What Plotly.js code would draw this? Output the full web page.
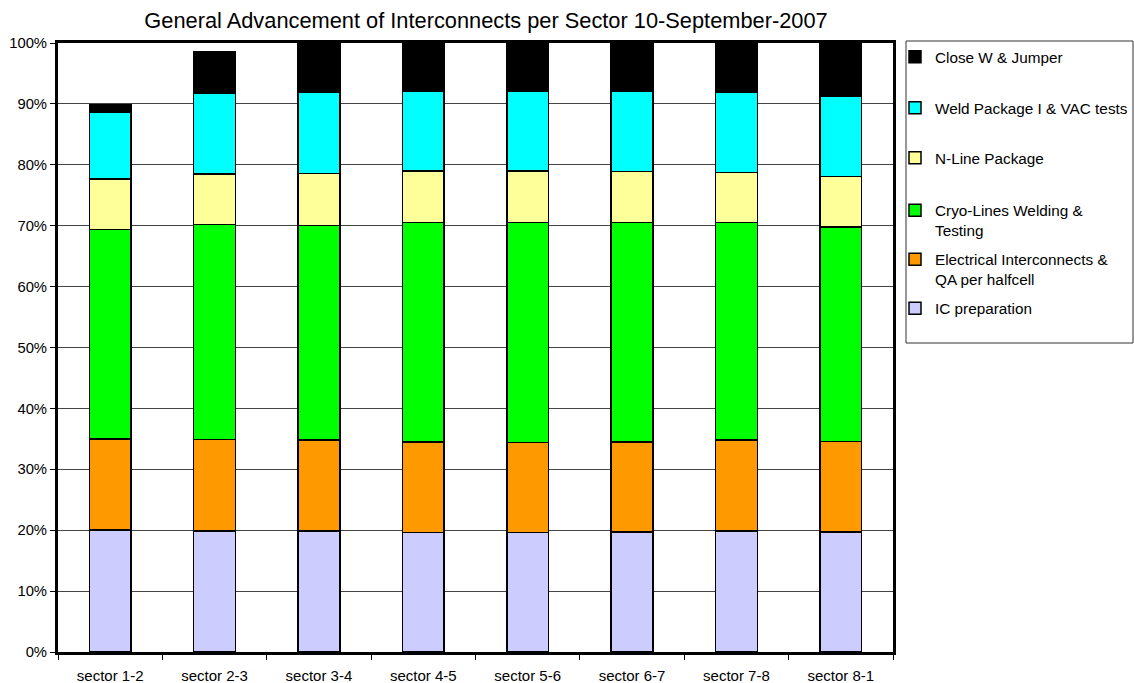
<!DOCTYPE html>
<html><head><meta charset="utf-8">
<script src="https://cdn.plot.ly/plotly-3.0.1.min.js"></script>
<style>html,body{margin:0;padding:0;background:#fff}#chart{width:1134px;height:683px}</style>
</head><body><div id="chart"></div>
<script>
// ---- data (percent of each sector, stacked) ----
const sectors = ['sector 1-2','sector 2-3','sector 3-4','sector 4-5','sector 5-6','sector 6-7','sector 7-8','sector 8-1'];
const icPreparation   = [20.0, 19.9, 19.9, 19.6, 19.6, 19.7, 19.9, 19.7];
const electricalQA    = [15.0, 15.0, 14.9, 14.9, 14.8, 14.8, 14.9, 14.9];
const cryoLines       = [34.4, 35.3, 35.2, 36.0, 36.1, 36.0, 35.7, 35.2];
const nLinePackage    = [ 8.3,  8.3,  8.6,  8.5,  8.5,  8.4,  8.2,  8.3];
const weldPackage     = [10.9, 13.3, 13.3, 13.0, 13.0, 13.1, 13.2, 13.1];
const closeWJumper    = [ 1.3,  6.8,  7.9,  7.8,  7.8,  7.8,  7.9,  8.6];
const seriesNames = ['IC preparation', 'Electrical Interconnects &\nQA per halfcell', 'Cryo-Lines Welding &\nTesting',
                     'N-Line Package', 'Weld Package I & VAC tests', 'Close W & Jumper'];
const yTickValues = [0,10,20,30,40,50,60,70,80,90,100];
const chartTitle = 'General Advancement of Interconnects per Sector 10-September-2007';

// ---- styling / layout ----
const seriesValues = [icPreparation, electricalQA, cryoLines, nLinePackage, weldPackage, closeWJumper];
const seriesColors = ['#CCCCFF', '#FF9900', '#00FF00', '#FFFF99', '#00FFFF', '#000000'];
const W = 1134, H = 683;
const M = {l: 58, r: 241, t: 43, b: 31, autoexpand: false};
const legendCenters = [308.3, 259.3, 210.3, 157.7, 107.7, 56.7]; // px, first text line of each entry
const FONT = '"Liberation Sans", Arial, Helvetica, sans-serif';
const px2paperX = x => (x - M.l) / (W - M.l - M.r);
const px2paperY = y => (H - M.b - y) / (H - M.t - M.b);

const legendKeys = ['legend', 'legend2', 'legend3', 'legend4', 'legend5', 'legend6'];

const traces = seriesValues.map((vals, i) => {
  const parts = seriesNames[i].split('\n');
  const label = parts.length > 1 ? ' <br>' + parts.join('<br>') : parts[0];
  return {
    type: 'bar',
    x: sectors,
    y: vals,
    name: label,
    legend: legendKeys[i],
    showlegend: true,
    marker: {color: seriesColors[i], line: {color: '#000000', width: 1.5}},
    hovertemplate: '%{x}: %{y:.1f}%<extra></extra>'
  };
});

const layout = {
  width: W, height: H,
  margin: M,
  showlegend: true,
  paper_bgcolor: '#ffffff',
  plot_bgcolor: '#ffffff',
  barmode: 'stack',
  bargap: 0.6,
  font: {family: FONT, color: '#000000', size: 15},
  title: {
    text: chartTitle,
    font: {family: FONT, size: 21.8, color: '#000000'},
    xref: 'container', yref: 'container',
    x: 486 / W, xanchor: 'center',
    y: 1 - 20 / H, yanchor: 'middle'
  },
  xaxis: {
    type: 'category',
    tickson: 'boundaries',
    ticks: 'outside', ticklen: 5, tickwidth: 1, tickcolor: '#000000',
    showline: true, linecolor: '#000000', linewidth: 3, mirror: true,
    showgrid: false, zeroline: false,
    tickfont: {family: FONT, size: 15, color: '#000000'},
    ticklabelstandoff: 8
  },
  yaxis: {
    range: [0, 100],
    tickmode: 'array', tickvals: yTickValues, ticktext: yTickValues.map(v => v + '%'),
    ticks: 'outside', ticklen: 5, tickwidth: 1, tickcolor: '#000000',
    showline: true, linecolor: '#000000', linewidth: 3, mirror: true,
    showgrid: true, gridcolor: '#444444', gridwidth: 1,
    zeroline: false,
    tickfont: {family: FONT, size: 14.8, color: '#000000'}
  },
  shapes: [{
    type: 'rect', xref: 'paper', yref: 'paper',
    x0: px2paperX(906), x1: px2paperX(1133), y0: px2paperY(343), y1: px2paperY(41),
    line: {color: '#333333', width: 1}, fillcolor: 'rgba(0,0,0,0)', layer: 'above'
  }]
};

legendKeys.forEach((k, i) => {
  layout[k] = {
    xref: 'container', yref: 'container',
    x: 895 / W, xanchor: 'left',
    y: 1 - legendCenters[i] / H, yanchor: 'middle',
    bgcolor: 'rgba(0,0,0,0)', borderwidth: 0,
    font: {family: FONT, size: 15.3, color: '#000000'},
    itemwidth: 30
  };
});

Plotly.newPlot('chart', traces, layout, {displayModeBar: false, staticPlot: true});
</script>
</body></html>
